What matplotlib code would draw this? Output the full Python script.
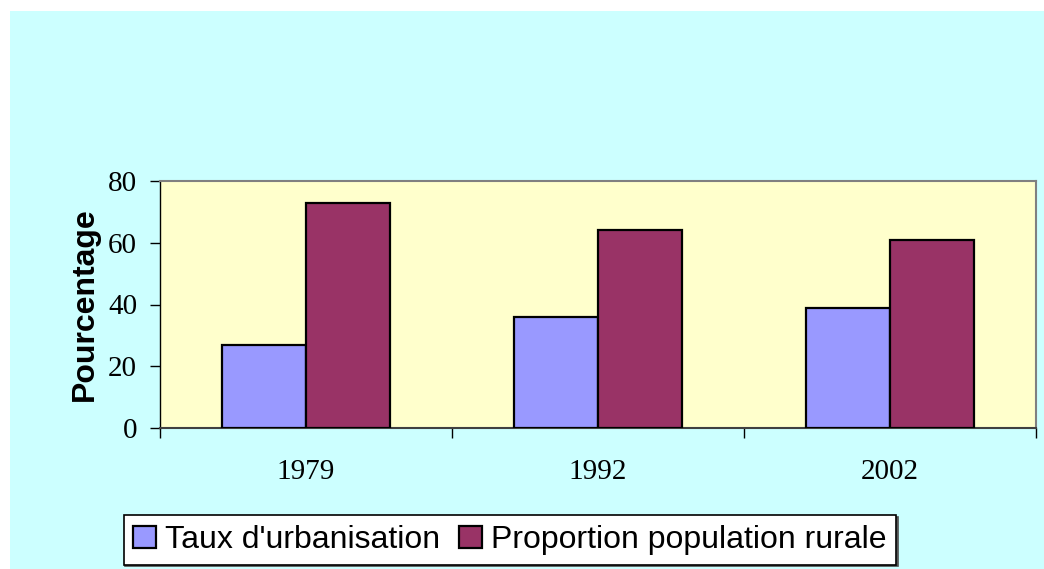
import numpy as np
import matplotlib.pyplot as plt
from matplotlib.patches import Rectangle

annees = ["1979", "1992", "2002"]
taux_urbanisation = [27, 36, 39]
population_rurale = [73, 64, 61]
yticks = [0, 20, 40, 60, 80]

fig = plt.figure(figsize=(10.44, 5.69), dpi=100, facecolor="white")
# fond cyan du graphique (marge blanche en haut et a gauche)
fig.patches.append(Rectangle((10 / 1044, 0), 1 - 10 / 1044, 1 - 11 / 569,
                             transform=fig.transFigure, facecolor="#CCFFFF",
                             edgecolor="none", zorder=-10))

ax = fig.add_axes([160 / 1044, 1 - 428 / 569, 876 / 1044, 247 / 569])
ax.set_facecolor("#FFFFCC")

x = np.arange(len(annees))
w = 0.288
b1 = ax.bar(x - w / 2, taux_urbanisation, w, color="#9999FF", edgecolor="black",
            linewidth=1.6, label="Taux d'urbanisation", zorder=3)
b2 = ax.bar(x + w / 2, population_rurale, w, color="#993366", edgecolor="black",
            linewidth=1.6, label="Proportion population rurale", zorder=3)

ax.set_xlim(-0.5, len(annees) - 0.5)
ax.set_ylim(0, 80)
ax.set_yticks(yticks)
ax.set_yticklabels([str(v) for v in yticks], fontfamily="Liberation Serif", fontsize=21)
ax.set_xticks(x)
ax.set_xticklabels(annees, fontfamily="Liberation Serif", fontsize=21)
ax.tick_params(axis="x", length=0, pad=22)
ax.set_xticks(np.arange(-0.5, len(annees)), minor=True)
ax.tick_params(axis="x", which="minor", length=7.5, width=1, direction="out")
ax.tick_params(axis="y", length=7.5, width=1, direction="out", pad=9)

for s in ["top", "right"]:
    ax.spines[s].set_color("#808080")
    ax.spines[s].set_linewidth(1.5)
ax.spines["left"].set_color("black")
ax.spines["left"].set_linewidth(1)
ax.spines["bottom"].set_color("#404040")
ax.spines["bottom"].set_linewidth(1.5)

ax.set_ylabel("Pourcentage", fontfamily="Liberation Sans", fontweight="bold",
              fontsize=23, labelpad=6)

leg = fig.legend(handles=[b1, b2], loc="center", bbox_to_anchor=(510 / 1044, 1 - 540 / 569),
                 ncol=2, frameon=True, fancybox=False,
                 shadow={"ox": 1.2, "oy": -1.2, "facecolor": "#808080", "alpha": 1},
                 prop={"family": "Liberation Sans", "size": 23},
                 handlelength=0.7, handleheight=0.7, handletextpad=0.3,
                 columnspacing=0.6, borderpad=0.3, borderaxespad=0)
leg.get_frame().set_edgecolor("black")
leg.get_frame().set_linewidth(1.2)
leg.get_frame().set_facecolor("white")
leg.get_frame().set_alpha(1)

fig.savefig("out.png", dpi=100, facecolor="white")
